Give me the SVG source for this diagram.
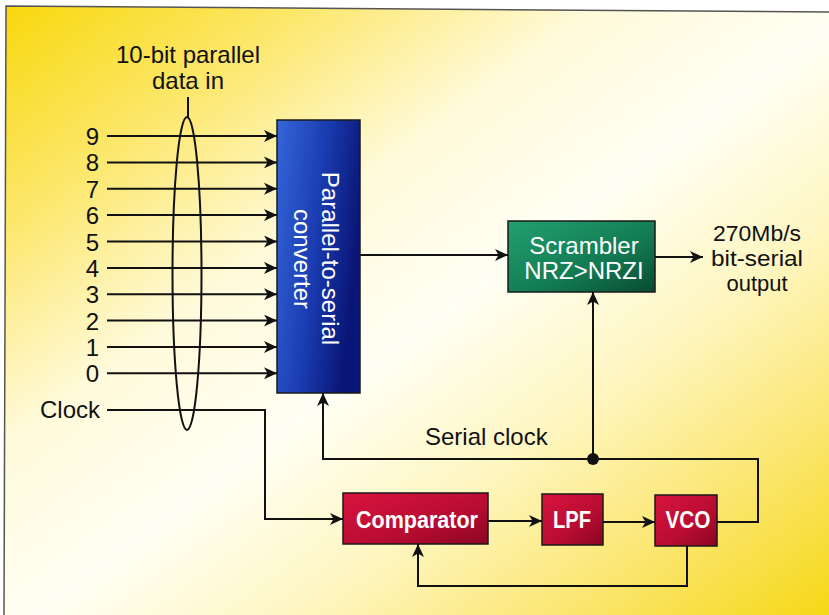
<svg xmlns="http://www.w3.org/2000/svg" width="829" height="615" viewBox="0 0 829 615">
<defs>
<linearGradient id="bg" x1="0" y1="0" x2="1" y2="1">
<stop offset="0" stop-color="#F8D80C"/>
<stop offset="0.18" stop-color="#FCE76A"/>
<stop offset="0.36" stop-color="#FFFADA"/>
<stop offset="0.52" stop-color="#FFFFF4"/>
<stop offset="0.68" stop-color="#FEF6C0"/>
<stop offset="0.84" stop-color="#FBE670"/>
<stop offset="1" stop-color="#F6D816"/>
</linearGradient>
<linearGradient id="blue" x1="0" y1="0" x2="1" y2="0.35">
<stop offset="0" stop-color="#3466DA"/>
<stop offset="0.55" stop-color="#1A3CB0"/>
<stop offset="1" stop-color="#0A1677"/>
</linearGradient>
<linearGradient id="green" x1="0" y1="0" x2="1" y2="1">
<stop offset="0" stop-color="#22A070"/>
<stop offset="0.6" stop-color="#127A52"/>
<stop offset="1" stop-color="#0A4A32"/>
</linearGradient>
<linearGradient id="red" x1="0" y1="0" x2="1" y2="1">
<stop offset="0" stop-color="#D8143E"/>
<stop offset="0.6" stop-color="#B80C32"/>
<stop offset="1" stop-color="#8A0522"/>
</linearGradient>
<marker id="arr" markerUnits="userSpaceOnUse" markerWidth="14" markerHeight="12" refX="13" refY="6" orient="auto">
<path d="M0,0 L13,6 L0,12 L3.5,6 Z" fill="#111"/>
</marker>
<style>
.t{font-family:"Liberation Sans",Arial,sans-serif;font-size:24px;fill:#111}
.o{font-family:"Liberation Sans",Arial,sans-serif;font-size:22px;fill:#111}
.w{font-family:"Liberation Sans",Arial,sans-serif;font-size:24px;fill:#fff}
.b{font-family:"Liberation Sans",Arial,sans-serif;font-size:24px;font-weight:bold;fill:#fff}
.l{fill:none;stroke:#111;stroke-width:2}
.box{stroke:#1a1a1a;stroke-width:1.5}
</style>
</defs>
<rect x="0" y="0" width="829" height="615" fill="#fff"/>
<polygon points="6,6 829,12 829,615 4,615" fill="url(#bg)"/>
<polyline points="4,615 6,6 829,12" fill="none" stroke="#555" stroke-width="1.5"/>

<g id="title">
<text class="t" x="188" y="63" text-anchor="middle">10-bit parallel</text>
<text class="t" x="188" y="89" text-anchor="middle">data in</text>
</g>

<g id="inputs">
<text class="t" x="99" y="145" text-anchor="end">9</text>
<text class="t" x="99" y="171.4" text-anchor="end">8</text>
<text class="t" x="99" y="197.7" text-anchor="end">7</text>
<text class="t" x="99" y="224.1" text-anchor="end">6</text>
<text class="t" x="99" y="250.5" text-anchor="end">5</text>
<text class="t" x="99" y="276.9" text-anchor="end">4</text>
<text class="t" x="99" y="303.2" text-anchor="end">3</text>
<text class="t" x="99" y="329.6" text-anchor="end">2</text>
<text class="t" x="99" y="356" text-anchor="end">1</text>
<text class="t" x="99" y="382.3" text-anchor="end">0</text>
<text class="t" x="40" y="418">Clock</text>
</g>

<g id="bus-ellipse">
<line class="l" x1="188" y1="97" x2="188" y2="117"/>
<ellipse class="l" cx="187" cy="273.5" rx="14.5" ry="156.5"/>
</g>

<g id="p2s">
<rect class="box" x="277" y="120" width="83" height="273" fill="url(#blue)"/>
<text class="w" transform="translate(322,258.5) rotate(90)" text-anchor="middle">Parallel-to-serial</text>
<text class="w" transform="translate(294,259) rotate(90)" text-anchor="middle">converter</text>
</g>

<g id="scrambler">
<rect class="box" x="508" y="221" width="147" height="71" fill="url(#green)"/>
<text class="w" x="584" y="254" text-anchor="middle">Scrambler</text>
<text class="w" x="584" y="279" text-anchor="middle">NRZ&gt;NRZI</text>
</g>

<g id="output">
<text class="o" x="757" y="241" text-anchor="middle" textLength="88" lengthAdjust="spacingAndGlyphs">270Mb/s</text>
<text class="o" x="757" y="266" text-anchor="middle" textLength="92" lengthAdjust="spacingAndGlyphs">bit-serial</text>
<text class="o" x="757" y="291" text-anchor="middle">output</text>
</g>

<g id="comparator">
<rect class="box" x="343" y="493" width="145" height="51" fill="url(#red)"/>
<text class="b" x="417" y="528" text-anchor="middle" textLength="122" lengthAdjust="spacingAndGlyphs">Comparator</text>
</g>
<g id="lpf">
<rect class="box" x="542" y="494" width="61" height="51" fill="url(#red)"/>
<text class="b" x="572" y="528" text-anchor="middle" textLength="38" lengthAdjust="spacingAndGlyphs">LPF</text>
</g>
<g id="vco">
<rect class="box" x="655" y="495" width="62" height="51" fill="url(#red)"/>
<text class="b" x="688" y="528" text-anchor="middle" textLength="45" lengthAdjust="spacingAndGlyphs">VCO</text>
</g>

<g id="serial-clock-label">
<text class="t" x="425" y="445">Serial clock</text>
</g>

<g id="connectors">
<line class="l" x1="107" y1="136" x2="277" y2="136" marker-end="url(#arr)"/>
<line class="l" x1="107" y1="162.4" x2="277" y2="162.4" marker-end="url(#arr)"/>
<line class="l" x1="107" y1="188.7" x2="277" y2="188.7" marker-end="url(#arr)"/>
<line class="l" x1="107" y1="215.1" x2="277" y2="215.1" marker-end="url(#arr)"/>
<line class="l" x1="107" y1="241.5" x2="277" y2="241.5" marker-end="url(#arr)"/>
<line class="l" x1="107" y1="267.9" x2="277" y2="267.9" marker-end="url(#arr)"/>
<line class="l" x1="107" y1="294.2" x2="277" y2="294.2" marker-end="url(#arr)"/>
<line class="l" x1="107" y1="320.6" x2="277" y2="320.6" marker-end="url(#arr)"/>
<line class="l" x1="107" y1="347" x2="277" y2="347" marker-end="url(#arr)"/>
<line class="l" x1="107" y1="373.3" x2="277" y2="373.3" marker-end="url(#arr)"/>
<polyline class="l" points="107,410 265,410 265,519 343,519" marker-end="url(#arr)"/>
<line class="l" x1="360" y1="255" x2="508" y2="255" marker-end="url(#arr)"/>
<line class="l" x1="655" y1="257" x2="703" y2="257" marker-end="url(#arr)"/>
<line class="l" x1="488" y1="521" x2="542" y2="521" marker-end="url(#arr)"/>
<line class="l" x1="603" y1="522" x2="655" y2="522" marker-end="url(#arr)"/>
<polyline class="l" points="717,522 758,522 758,459 323,459 323,393" marker-end="url(#arr)"/>
<line class="l" x1="593" y1="459" x2="593" y2="292" marker-end="url(#arr)"/>
<polyline class="l" points="687,546 687,586 418,586 418,544" marker-end="url(#arr)"/>
<circle cx="593" cy="459" r="6" fill="#111"/>
</g>
</svg>
